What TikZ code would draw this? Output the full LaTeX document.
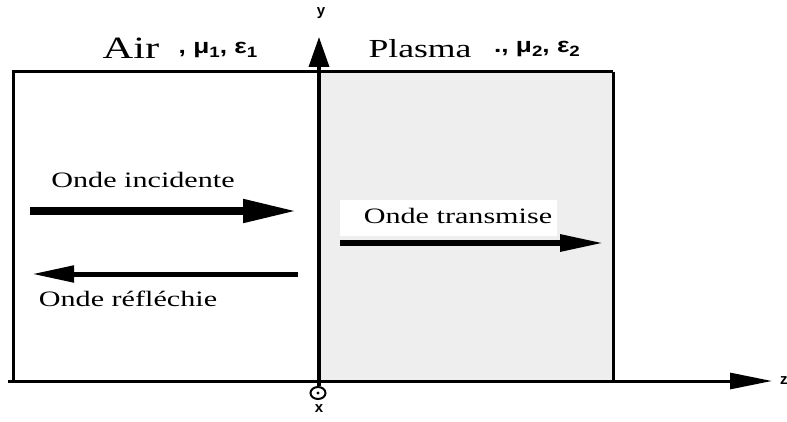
\documentclass[tikz,border=0pt]{standalone}
\usepackage{fontspec}
\setmainfont{Liberation Serif}
\newfontfamily\grk{Liberation Sans}
\usetikzlibrary{arrows.meta}
\newcommand{\wtxt}[2]{{\fontsize{#1}{#1}\selectfont\scalebox{1.37}[1]{#2}}}
\newcommand{\gsub}[1]{\raisebox{-4pt}{\fontsize{15}{15}\selectfont #1}}
\newcommand{\glab}[1]{{\grk\bfseries\fontsize{21}{21}\selectfont\scalebox{1.25}[1]{#1}}}
\tikzset{
  frame/.style={line width=3pt},
  axis/.style={line width=3pt},
  lbl/.style={inner sep=0pt, text=black},
  wave/.style={line width=#1},
}
\begin{document}
\begin{tikzpicture}[x=1pt,y=-1pt]
\useasboundingbox (0,0) rectangle (787,422);
% plasma region
\fill[gray!13] (319,72) rectangle (613,381);
% frame
\draw[frame] (12,72) -- (613,72);
\draw[frame] (13,72) -- (13,381);
\draw[frame] (613,72) -- (613,381);
% axes
\coordinate (zs) at (8,381);
\coordinate (ze) at (772,381);
\draw[axis,-{Triangle[length=42pt,width=16pt]}] (zs) -- (ze);
\node[lbl,anchor=west,font=\grk\bfseries\fontsize{15}{15}\selectfont] (zl) at (780,381) {z};
\coordinate (ys) at (319,386);
\coordinate (ye) at (319,37);
\draw[axis,line width=3.5pt,-{Triangle[length=30pt,width=20pt]}] (ys) -- (ye);
\node[lbl,font=\grk\bfseries\fontsize{15}{15}\selectfont] (yl) at (321,13) {y};
% x axis out of page
\draw[line width=2pt] (318,393) ellipse (7.5pt and 6pt);
\fill (318,393) circle (1.6pt);
\node[lbl,font=\grk\bfseries\fontsize{15}{15}\selectfont] (xl) at (319,409) {x};
% labels of media
\node[lbl] (air) at (131,48) {\wtxt{31}{Air}};
\node[lbl] (airp) at (218,50) {\glab{, μ\gsub{1}, ε\gsub{1}}};
\node[lbl] (plp) at (537,49) {\glab{., μ\gsub{2}, ε\gsub{2}}};
\node[lbl,fill=white,inner xsep=2pt,inner ysep=3pt] (plasma) at (420,49) {\wtxt{26}{Plasma}};
% waves
\coordinate (ia) at (30,211);
\coordinate (ib) at (297,211);
\draw[wave=8pt,-{Triangle[length=54pt,width=22pt]}] (ia) -- (ib);
\node[lbl] (inc) at (143,180) {\wtxt{22}{Onde incidente}};
\coordinate (ra) at (298,274);
\coordinate (rb) at (32,274);
\draw[wave=5pt,-{Triangle[length=42pt,width=16pt]}] (ra) -- (rb);
\node[lbl] (ref) at (128,299) {\wtxt{22}{Onde réfléchie}};
\node[lbl,fill=white,minimum width=217pt,minimum height=36pt] (trl) at (448,218) {};
\node[lbl] (trt) at (458,216) {\wtxt{22}{Onde transmise}};
\coordinate (ta) at (340,243);
\coordinate (tb) at (604,243);
\draw[wave=6pt,-{Triangle[length=44pt,width=16pt]}] (ta) -- (tb);
\end{tikzpicture}
\end{document}
